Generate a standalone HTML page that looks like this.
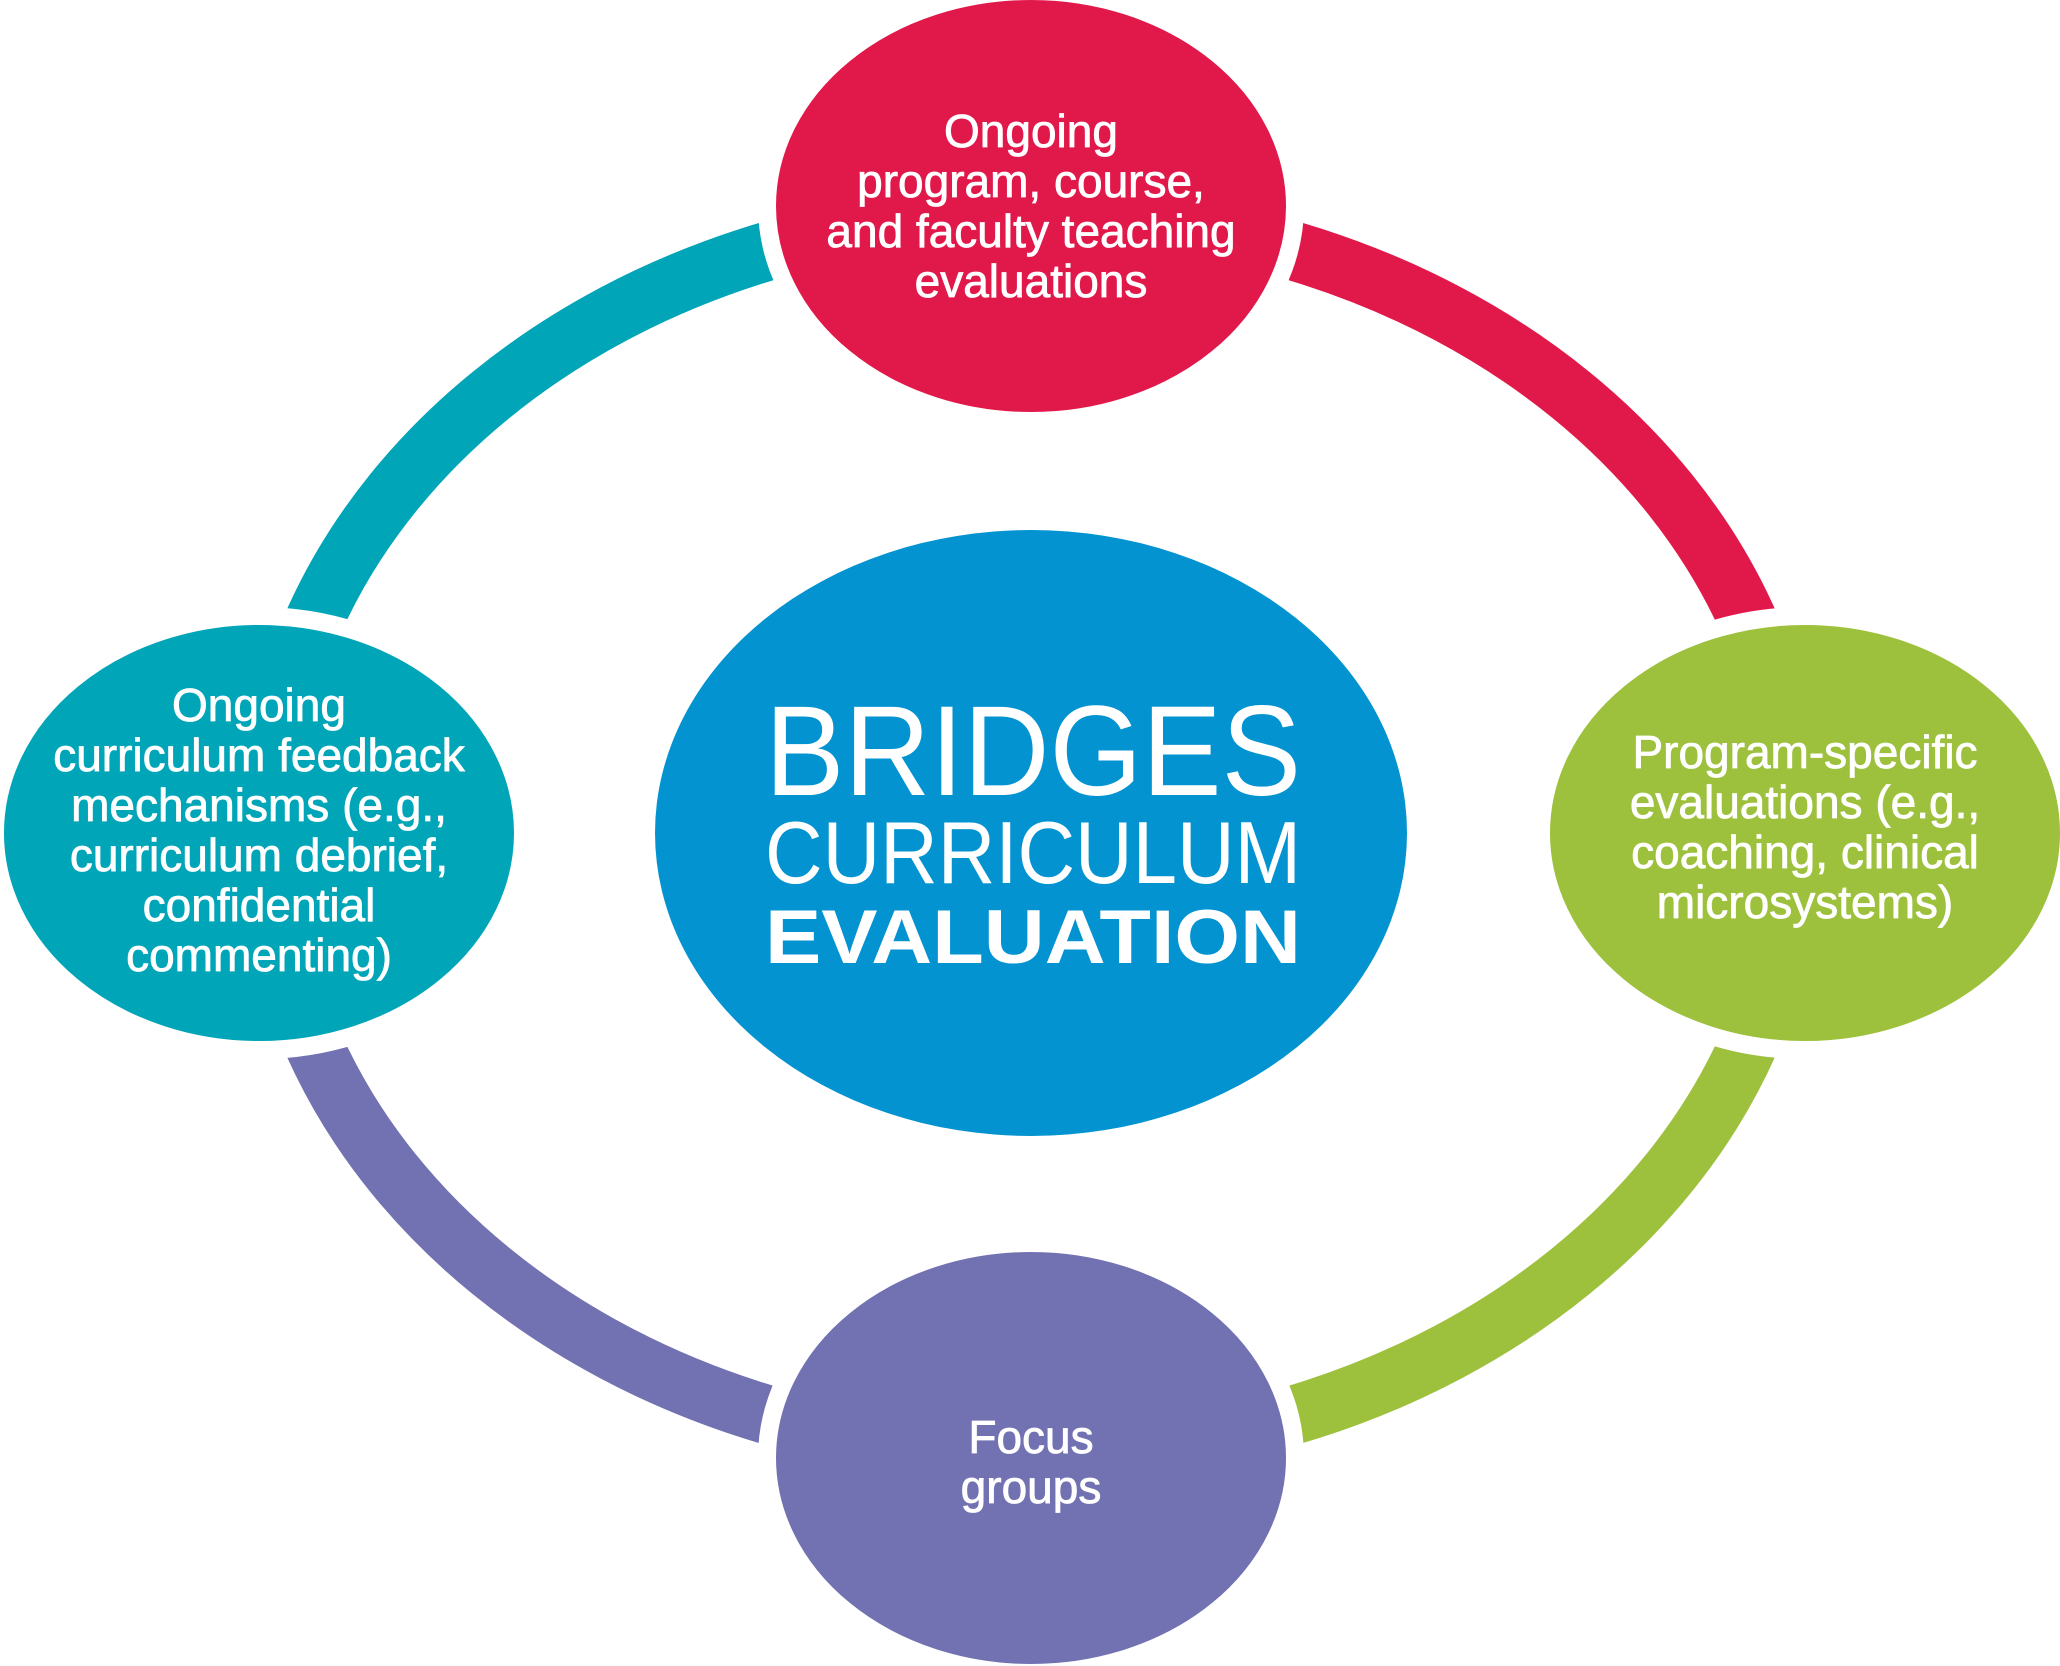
<!DOCTYPE html>
<html><head><meta charset="utf-8"><style>html,body{margin:0;padding:0;background:#fff}svg{display:block}</style></head>
<body>
<svg width="2060" height="1666" viewBox="0 0 2060 1666" xmlns="http://www.w3.org/2000/svg">
<defs>
<clipPath id="ul"><rect x="0" y="0" width="1031" height="833"/></clipPath>
<clipPath id="ur"><rect x="1031" y="0" width="1100" height="833"/></clipPath>
<clipPath id="lr"><rect x="1031" y="833" width="1100" height="900"/></clipPath>
<clipPath id="ll"><rect x="0" y="833" width="1031" height="900"/></clipPath>
</defs>
<g fill="none" stroke-width="59">
<ellipse cx="1031" cy="833" rx="763" ry="620" stroke="#00A5B8" clip-path="url(#ul)"/>
<ellipse cx="1031" cy="833" rx="763" ry="620" stroke="#E1194A" clip-path="url(#ur)"/>
<ellipse cx="1031" cy="833" rx="763" ry="620" stroke="#9DC13C" clip-path="url(#lr)"/>
<ellipse cx="1031" cy="833" rx="763" ry="620" stroke="#7272B2" clip-path="url(#ll)"/>
</g>
<g stroke="#fff" stroke-width="18">
<ellipse cx="1031" cy="206" rx="264" ry="215" fill="#E1194A"/>
<ellipse cx="259" cy="833" rx="264" ry="217" fill="#00A5B8"/>
<ellipse cx="1805" cy="833" rx="264" ry="217" fill="#9DC13C"/>
<ellipse cx="1031" cy="1458" rx="264" ry="215" fill="#7272B2"/>
</g>
<ellipse cx="1031" cy="833" rx="376" ry="303" fill="#0393D0"/>
<g fill="#fff" font-family="Liberation Sans, sans-serif" font-size="46" text-anchor="middle" stroke="#fff" stroke-width="0.8">
<text x="1031" y="147">Ongoing</text>
<text x="1031" y="197">program, course,</text>
<text x="1031" y="247">and faculty teaching</text>
<text x="1031" y="297">evaluations</text>
<text x="259" y="721">Ongoing</text>
<text x="259" y="771">curriculum feedback</text>
<text x="259" y="821">mechanisms (e.g.,</text>
<text x="259" y="871">curriculum debrief,</text>
<text x="259" y="921">confidential</text>
<text x="259" y="971">commenting)</text>
<text x="1805" y="768">Program-specific</text>
<text x="1805" y="818">evaluations (e.g.,</text>
<text x="1805" y="868">coaching, clinical</text>
<text x="1805" y="918">microsystems)</text>
<text x="1031" y="1453">Focus</text>
<text x="1031" y="1503">groups</text>
</g>
<g fill="#fff" font-family="Liberation Sans, sans-serif" text-anchor="middle">
<text x="1033" y="795" font-size="128" textLength="536" lengthAdjust="spacingAndGlyphs">BRIDGES</text>
<text x="1033" y="883" font-size="88" textLength="536" lengthAdjust="spacingAndGlyphs">CURRICULUM</text>
<text x="1033" y="963" font-size="76" font-weight="bold" textLength="536" lengthAdjust="spacingAndGlyphs">EVALUATION</text>
</g>
</svg>
</body></html>
